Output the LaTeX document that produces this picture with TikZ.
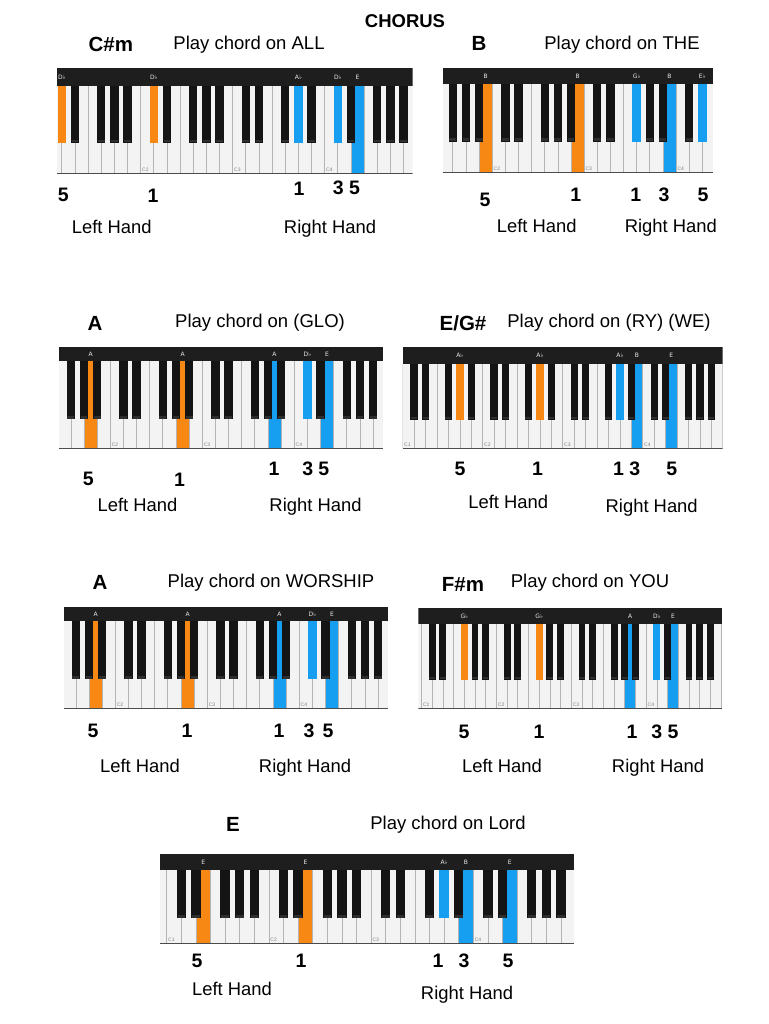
\documentclass[tikz,border=0pt]{standalone}
\usepackage{fontspec}
\setmainfont{Liberation Sans}
\newfontfamily\labelfont{DejaVu Sans}
\definecolor{korange}{RGB}{247,136,20}
\definecolor{kblue}{RGB}{22,158,240}
\definecolor{kwhite}{RGB}{243,243,243}
\definecolor{kblack}{RGB}{20,20,20}
\definecolor{ktip}{RGB}{46,46,46}
\definecolor{kbar}{RGB}{30,30,30}
\definecolor{kline}{RGB}{180,180,180}
\tikzset{
 title/.style={font=\fontsize{18.5}{20}\selectfont, anchor=base, inner sep=0pt},
 chord/.style={font=\fontsize{20.5}{22}\selectfont\bfseries, anchor=base, inner sep=0pt},
 finger/.style={font=\fontsize{19.5}{21}\selectfont\bfseries, anchor=base, inner sep=0pt},
 hand/.style={font=\fontsize{18.4}{20}\selectfont, anchor=base, inner sep=0pt},
 barlabel/.style={font=\labelfont\fontsize{6}{6}\selectfont, text=white!85!gray, inner sep=0pt},
 clabel/.style={font=\fontsize{5}{6}\selectfont, text=gray, inner sep=0.5pt, anchor=south west},
}
% #1 xL #2 xR #3 yTop #4 yBar #5 yBlack #6 yBot #7 C1x #8 white width #9 highlights type/index/colour/label
\newcommand\kbd[9]{%
\begin{scope}
\clip (#1,#3) rectangle (#2,#6);
\fill[kwhite] (#1,#4) rectangle (#2,#6);
\foreach \kt/\ki/\kc/\kl in {#9}{\ifnum\kt=0 \fill[\kc] ({#7+\ki*#8},#4) rectangle ({#7+(\ki+1)*#8},#6);\fi}
\foreach \kk in {-1,0,...,29}{\draw[kline,line width=0.7pt] ({#7+\kk*#8},#4) -- ({#7+\kk*#8},#6);}
\foreach \ko in {-1,0,...,4}{\foreach \kp in {1,2,4,5,6}{%
 \fill[kblack] ({#7+(7*\ko+\kp-0.32)*#8},#4) rectangle ({#7+(7*\ko+\kp+0.32)*#8},#5);
 \fill[ktip] ({#7+(7*\ko+\kp-0.26)*#8},{#5-3.5}) rectangle ({#7+(7*\ko+\kp+0.26)*#8},{#5-0.8});}}
\foreach \kt/\ki/\kc/\kl in {#9}{\ifnum\kt=1 \fill[\kc] ({#7+(\ki-0.32)*#8},#4) rectangle ({#7+(\ki+0.32)*#8},#5);\fi}
\fill[kbar] (#1,#3) rectangle (#2,#4);
\foreach \kt/\ki/\kc/\kl in {#9}{\node[barlabel] at ({#7+(\ki+0.5-0.5*\kt)*#8},{(#3+#4)/2}) {\kl};}
\foreach \ko in {1,2,3,4}{\node[clabel] at ({#7+7*(\ko-1)*#8+0.8},{#6-1}) {C\ko};}
\draw[gray!60!black,line width=1.2pt] (#1,#6) -- (#2,#6);
\end{scope}}
\begin{document}
\begin{tikzpicture}[x=1pt,y=-1pt]
\useasboundingbox (0,0) rectangle (768,1024);
\fill[white] (0,0) rectangle (768,1024);

\node[chord,font=\fontsize{18.5}{20}\selectfont\bfseries] (chorus) at (405,27.7) {CHORUS};

% ---------- 1: C#m
\node[chord] (n1) at (110.8,51.7) {C\#m};
\node[title] (p1) at (249,49.3) {Play chord on ALL};
\kbd{56.7}{412.7}{68.3}{86}{143.3}{173.3}{48.7}{13.14}{1/1/korange/D♭,1/8/korange/D♭,1/19/kblue/A♭,1/22/kblue/D♭,0/23/kblue/E}
\node[finger] (f1a) at (63.3,201.7) {5};
\node[finger] (f1b) at (153,202.3) {1};
\node[finger] (f1c) at (299,195.7) {1};
\node[finger] (f1d) at (346.5,195) {3 5};
\node[hand] (l1) at (111.7,233.3) {Left Hand};
\node[hand] (r1) at (330,233.3) {Right Hand};

% ---------- 2: B
\node[chord] (n2) at (479,51) {B};
\node[title] (p2) at (622,49.5) {Play chord on THE};
\kbd{442.7}{713.3}{68.3}{84}{141.7}{172.7}{400.3}{13.13}{0/6/korange/B,0/13/korange/B,1/18/kblue/G♭,0/20/kblue/B,1/23/kblue/E♭}
\node[finger] (f2a) at (485,206.7) {5};
\node[finger] (f2b) at (575.8,201.7) {1};
\node[finger] (f2c) at (635.8,201.7) {1};
\node[finger] (f2d) at (664,201.7) {3};
\node[finger] (f2e) at (703,201.7) {5};
\node[hand] (l2) at (536.7,232.3) {Left Hand};
\node[hand] (r2) at (670.8,232.3) {Right Hand};

% ---------- 3: A (GLO)
\node[chord] (n3) at (95,330) {A};
\node[title] (p3) at (260,327.5) {Play chord on (GLO)};
\kbd{59}{383.3}{347.3}{360.7}{419.3}{448.3}{18.3}{13.14}{0/5/korange/A,0/12/korange/A,0/19/kblue/A,1/22/kblue/D♭,0/23/kblue/E}
\node[finger] (f3a) at (88.3,485) {5};
\node[finger] (f3b) at (179.5,486.7) {1};
\node[finger] (f3c) at (274,475) {1};
\node[finger] (f3d) at (315.8,475) {3 5};
\node[hand] (l3) at (137.5,511.7) {Left Hand};
\node[hand] (r3) at (315.5,511.7) {Right Hand};

% ---------- 4: E/G#
\node[chord] (n4) at (463,330) {E/G\#};
\node[title] (p4) at (609,327.5) {Play chord on (RY) (WE)};
\kbd{402.7}{722.7}{346.7}{364}{420}{448.3}{402.7}{11.43}{1/5/korange/A♭,1/12/korange/A♭,1/19/kblue/A♭,0/20/kblue/B,0/23/kblue/E}
\node[finger] (f4a) at (460,475) {5};
\node[finger] (f4b) at (537.5,475) {1};
\node[finger] (f4c) at (626.7,475) {1 3};
\node[finger] (f4d) at (671.7,475) {5};
\node[hand] (l4) at (508.3,508.3) {Left Hand};
\node[hand] (r4) at (651.7,512.3) {Right Hand};

% ---------- 5: A (WORSHIP)
\node[chord] (n5) at (100,589) {A};
\node[title] (p5) at (271,587.5) {Play chord on WORSHIP};
\kbd{64}{388.3}{607.3}{620.7}{679.3}{708.3}{23.3}{13.14}{0/5/korange/A,0/12/korange/A,0/19/kblue/A,1/22/kblue/D♭,0/23/kblue/E}
\node[finger] (f5a) at (93,737) {5};
\node[finger] (f5b) at (187,737) {1};
\node[finger] (f5c) at (279,737) {1};
\node[finger] (f5d) at (309,737) {3};
\node[finger] (f5e) at (328,737) {5};
\node[hand] (l5) at (140,772) {Left Hand};
\node[hand] (r5) at (305,772) {Right Hand};

% ---------- 6: F#m
\node[chord] (n6) at (463,591) {F\#m};
\node[title] (p6) at (590,587.5) {Play chord on YOU};
\kbd{418.3}{722.3}{608.3}{624.3}{680}{708.3}{421.5}{10.7}{1/4/korange/G♭,1/11/korange/G♭,0/19/kblue/A,1/22/kblue/D♭,0/23/kblue/E}
\node[finger] (f6a) at (464,738) {5};
\node[finger] (f6b) at (539,738) {1};
\node[finger] (f6c) at (632,738) {1};
\node[finger] (f6d) at (665,738) {3 5};
\node[hand] (l6) at (502,772.5) {Left Hand};
\node[hand] (r6) at (658,772.5) {Right Hand};

% ---------- 7: E (Lord)
\node[chord] (n7) at (233,831) {E};
\node[title] (p7) at (448,829.5) {Play chord on Lord};
\kbd{160}{574.3}{854}{870}{918.3}{943.3}{166.7}{14.6}{0/2/korange/E,0/9/korange/E,1/19/kblue/A♭,0/20/kblue/B,0/23/kblue/E}
\node[finger] (f7a) at (197,967) {5};
\node[finger] (f7b) at (301,967) {1};
\node[finger] (f7c) at (438,967) {1};
\node[finger] (f7d) at (464,967) {3};
\node[finger] (f7e) at (508,967) {5};
\node[hand] (l7) at (232,995.5) {Left Hand};
\node[hand] (r7) at (467,999.5) {Right Hand};
\end{tikzpicture}
\end{document}
